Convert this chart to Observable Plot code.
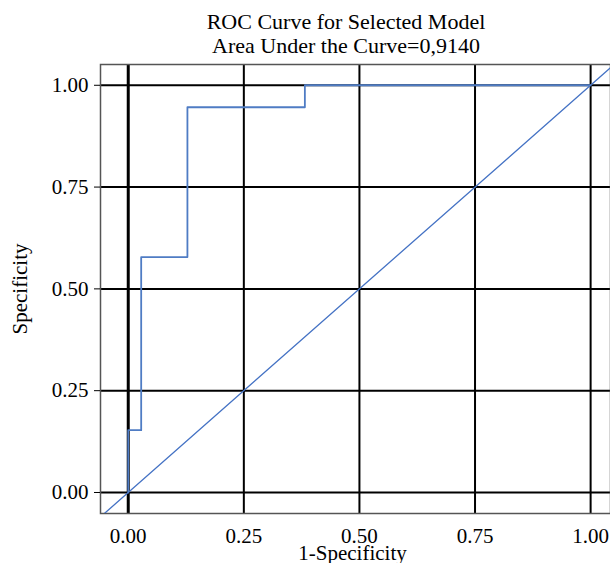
<!DOCTYPE html>
<html>
<head>
<meta charset="utf-8">
<script src="https://cdn.jsdelivr.net/npm/d3@7"></script>
<script src="https://cdn.jsdelivr.net/npm/@observablehq/plot@0.6"></script>
<style>
  html, body { margin: 0; padding: 0; background: #fff; overflow: hidden; width: 610px; height: 563px; }
  #title { width: 692px; text-align: center; font-family: "Liberation Serif", serif; font-size: 22px; line-height: 24px; padding-top: 10px; color: #000; }
  #chart svg { display: block; }
</style>
</head>
<body>
<div id="title">ROC Curve for Selected Model<br>Area Under the Curve=0,9140</div>
<div id="chart"></div>
<script>
// ROC curve points (1-Specificity, Specificity), drawn as steps
const fpr = [0, 0, 0.028, 0.128, 0.382, 1];
const tpr = [0, 0.153, 0.578, 0.946, 1, 1];
// Reference diagonal y = x
const diag = [-1, 2];
// Ticks
const tickValues = [0, 0.25, 0.5, 0.75, 1];
const tickLabels = ["0.00", "0.25", "0.50", "0.75", "1.00"];

const roc = fpr.map((x, i) => ({x, y: tpr[i]}));
const fmt = d => tickLabels[tickValues.indexOf(d)];

const chart = Plot.plot({
  width: 610,
  height: 505,
  marginLeft: 100,
  marginRight: 0,
  marginTop: 6,
  marginBottom: 50,
  style: {fontFamily: "Liberation Serif, serif", fontSize: "21px", color: "#000", background: "#fff"},
  x: {domain: [-0.06, 1.043]},
  y: {domain: [-0.0516, 1.051]},
  marks: [
    Plot.ruleX(tickValues.filter(d => d !== 0), {stroke: "#000", strokeWidth: 2}),
    Plot.ruleY(tickValues, {stroke: "#000", strokeWidth: 2}),
    Plot.ruleX([0], {stroke: "#000", strokeWidth: 3}),
    Plot.frame({stroke: "#555", strokeWidth: 1.5}),
    Plot.line(diag.map(d => ({x: d, y: d})), {x: "x", y: "y", stroke: "#4472c4", strokeWidth: 1.3, clip: true}),
    Plot.line(roc, {x: "x", y: "y", curve: "step-after", stroke: "#4f7cc4", strokeWidth: 1.8}),
    Plot.axisY({ticks: tickValues, tickFormat: fmt, tickSize: 6, tickPadding: 6, label: null, stroke: "#000"}),
    Plot.axisX({ticks: tickValues, tickFormat: fmt, tickSize: 0, tickPadding: 15, label: null}),
    Plot.text(["1-Specificity"], {frameAnchor: "bottom", dy: 46, x: () => 0.485, text: d => d, fontSize: 21}),
    Plot.text(["Specificity"], {frameAnchor: "left", dx: -80, rotate: -90, textAnchor: "middle", text: d => d, fontSize: 21})
  ]
});
document.getElementById("chart").appendChild(chart);
</script>
</body>
</html>
